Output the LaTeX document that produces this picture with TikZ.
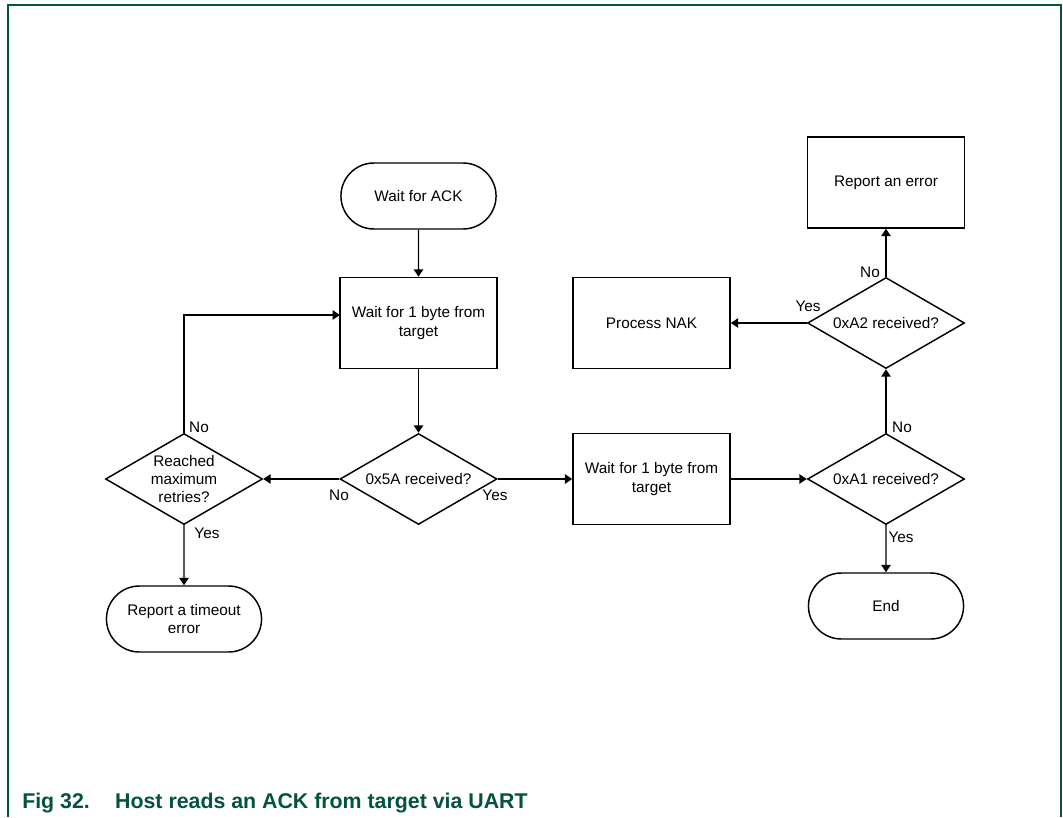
\documentclass[tikz,border=0pt]{standalone}
\usepackage{fontspec}
\setmainfont{Liberation Sans}
\usetikzlibrary{shapes.geometric, shapes.misc, arrows.meta}
\definecolor{nxpgreen}{RGB}{4,82,64}

\begin{document}
\begin{tikzpicture}[x=0.75pt, y=-0.75pt,
    every node/.style={font=\fontsize{11.5}{13.8}\selectfont},
    terminal/.style={rounded rectangle, draw, line width=1.1pt, minimum width=123pt, minimum height=49.5pt, align=center},
    process/.style={rectangle, draw, line width=1.1pt, minimum width=117.75pt, minimum height=68.25pt, align=center},
    decision/.style={diamond, draw, line width=1.1pt, minimum width=117.75pt, minimum height=68.25pt, inner sep=0pt, label={[align=center]center:#1}},
    flow/.style={line width=1.1pt, -{Triangle[length=5.5pt, width=7pt]}},
    lbl/.style={inner sep=0pt}]
\useasboundingbox (0,0) rectangle (1063,817);

% page frame
\draw[nxpgreen, line width=1.1pt] (8,817) -- (8,5) -- (1061,5) -- (1061,817);

% left half
\node[terminal] (start) at (418.5,196) {Wait for ACK};
\node[process] (wait1) at (418.5,323) {Wait for 1 byte from\\target};
\node[decision={0x5A received?}] (chk5a) at (418.5,479) {};
\node[decision={Reached\\maximum\\retries?}] (retry) at (184,479) {};
\node[terminal] (timeout) at (184,619) {Report a timeout\\error};
\coordinate (loopin) at (340,315);

% right half
\node[process] (wait2) at (651.5,479) {Wait for 1 byte from\\target};
\node[decision={0xA1 received?}] (chka1) at (886,479) {};
\node[terminal] (done) at (886,606) {End};
\node[decision={0xA2 received?}] (chka2) at (886,323) {};
\node[process] (nak) at (651.5,323) {Process NAK};
\node[process] (report) at (886,182.5) {Report an error};

\draw[flow] (start) -- (wait1);
\draw[flow] (wait1) -- (chk5a);
\draw[flow] (chk5a) -- (retry);
\draw[flow] (retry.north) |- (loopin);
\draw[flow] (retry) -- (timeout);
\draw[flow] (chk5a) -- (wait2);
\draw[flow] (wait2) -- (chka1);
\draw[flow] (chka1) -- (done);
\draw[flow] (chka1) -- (chka2);
\draw[flow] (chka2) -- (nak);
\draw[flow] (chka2) -- (report);

\node[lbl] (no1) at (339,495) {No};
\node[lbl] (yes1) at (495,495) {Yes};
\node[lbl] (no2) at (199,427) {No};
\node[lbl] (yes2) at (207,533) {Yes};
\node[lbl] (no3) at (902,427) {No};
\node[lbl] (yes3) at (901,537) {Yes};
\node[lbl] (yes4) at (808,306) {Yes};
\node[lbl] (no4) at (870,272) {No};

\node[anchor=base west, inner sep=0pt, text=nxpgreen, font=\bfseries\fontsize{16}{19}\selectfont] (caption) at (22,808) {Fig 32.\hspace{19pt}Host reads an ACK from target via UART};
\end{tikzpicture}
\end{document}
